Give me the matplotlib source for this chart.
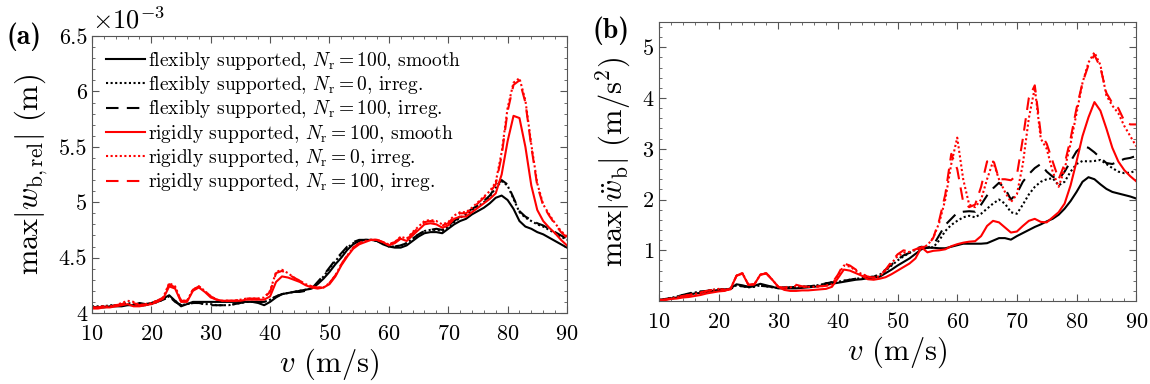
import numpy as np
import matplotlib
matplotlib.use("Agg")
import matplotlib.pyplot as plt
from matplotlib.ticker import MultipleLocator, FuncFormatter

plt.rcParams['font.family'] = 'serif'
plt.rcParams['font.serif'] = ['cmr10', 'DejaVu Serif']
plt.rcParams['mathtext.fontset'] = 'cm'
plt.rcParams['axes.formatter.use_mathtext'] = True
plt.rcParams['axes.unicode_minus'] = False

# speed grid (m/s)
v = np.arange(10, 91)

# (a) max|w_b,rel| in 1e-3 m
a_flex_smooth = [4.05, 4.05, 4.05, 4.06, 4.06, 4.06, 4.07, 4.07, 4.09, 4.08,
                 4.09, 4.11, 4.13, 4.16, 4.11, 4.06, 4.08, 4.10, 4.10, 4.10,
                 4.10, 4.10, 4.10, 4.10, 4.10, 4.10, 4.10, 4.10, 4.09, 4.07,
                 4.10, 4.14, 4.17, 4.18, 4.19, 4.20, 4.21, 4.22, 4.26, 4.31,
                 4.37, 4.44, 4.50, 4.57, 4.62, 4.65, 4.66, 4.66, 4.65, 4.62,
                 4.60, 4.59, 4.59, 4.61, 4.65, 4.69, 4.72, 4.73, 4.73, 4.72,
                 4.76, 4.80, 4.83, 4.85, 4.89, 4.92, 4.95, 4.99, 5.04, 5.06,
                 5.02, 4.94, 4.83, 4.78, 4.76, 4.73, 4.71, 4.68, 4.65, 4.62, 4.59]
a_flex_irreg0 = [4.06, 4.06, 4.06, 4.07, 4.07, 4.08, 4.09, 4.08, 4.07, 4.07,
                 4.08, 4.10, 4.12, 4.15, 4.11, 4.07, 4.08, 4.09, 4.09, 4.08,
                 4.08, 4.07, 4.07, 4.07, 4.08, 4.09, 4.10, 4.10, 4.10, 4.10,
                 4.12, 4.15, 4.17, 4.18, 4.19, 4.20, 4.21, 4.22, 4.27, 4.33,
                 4.40, 4.47, 4.53, 4.59, 4.63, 4.65, 4.66, 4.66, 4.65, 4.63,
                 4.60, 4.60, 4.61, 4.63, 4.67, 4.71, 4.74, 4.75, 4.75, 4.74,
                 4.78, 4.82, 4.86, 4.89, 4.93, 4.96, 5.00, 5.05, 5.13, 5.19,
                 5.15, 5.03, 4.91, 4.86, 4.83, 4.80, 4.78, 4.75, 4.72, 4.69, 4.66]
a_flex_irreg100 = [4.05, 4.05, 4.06, 4.06, 4.07, 4.07, 4.08, 4.08, 4.07, 4.07,
                   4.08, 4.10, 4.12, 4.15, 4.10, 4.07, 4.08, 4.09, 4.09, 4.08,
                   4.07, 4.07, 4.07, 4.07, 4.08, 4.09, 4.10, 4.10, 4.10, 4.10,
                   4.12, 4.15, 4.17, 4.18, 4.19, 4.19, 4.20, 4.22, 4.28, 4.34,
                   4.41, 4.48, 4.54, 4.60, 4.64, 4.66, 4.66, 4.66, 4.65, 4.63,
                   4.61, 4.60, 4.61, 4.63, 4.67, 4.71, 4.74, 4.75, 4.76, 4.75,
                   4.79, 4.83, 4.87, 4.90, 4.94, 4.97, 5.01, 5.06, 5.14, 5.20,
                   5.16, 5.04, 4.92, 4.87, 4.84, 4.81, 4.79, 4.76, 4.73, 4.70, 4.67]
a_rigid_smooth = [4.04, 4.04, 4.05, 4.05, 4.06, 4.07, 4.08, 4.06, 4.06, 4.07,
                  4.08, 4.10, 4.13, 4.24, 4.22, 4.10, 4.10, 4.20, 4.23, 4.19,
                  4.14, 4.12, 4.11, 4.11, 4.11, 4.11, 4.12, 4.12, 4.12, 4.12,
                  4.15, 4.28, 4.33, 4.32, 4.30, 4.28, 4.25, 4.23, 4.22, 4.23,
                  4.26, 4.33, 4.43, 4.51, 4.58, 4.62, 4.64, 4.66, 4.66, 4.64,
                  4.61, 4.63, 4.67, 4.65, 4.70, 4.75, 4.80, 4.81, 4.80, 4.77,
                  4.79, 4.85, 4.87, 4.87, 4.91, 4.95, 4.99, 5.03, 5.08, 5.25,
                  5.55, 5.78, 5.76, 5.50, 5.15, 4.93, 4.83, 4.77, 4.72, 4.66, 4.61]
a_rigid_irreg0 = [4.05, 4.05, 4.06, 4.06, 4.07, 4.09, 4.11, 4.10, 4.07, 4.08,
                  4.09, 4.11, 4.14, 4.27, 4.24, 4.11, 4.11, 4.21, 4.24, 4.20,
                  4.15, 4.12, 4.11, 4.11, 4.11, 4.12, 4.13, 4.13, 4.13, 4.14,
                  4.20, 4.37, 4.39, 4.36, 4.32, 4.29, 4.26, 4.24, 4.23, 4.23,
                  4.27, 4.34, 4.44, 4.52, 4.59, 4.63, 4.65, 4.66, 4.66, 4.64,
                  4.62, 4.64, 4.69, 4.67, 4.73, 4.78, 4.83, 4.84, 4.83, 4.80,
                  4.82, 4.88, 4.91, 4.91, 4.95, 5.00, 5.05, 5.10, 5.18, 5.45,
                  5.85, 6.08, 6.12, 5.92, 5.52, 5.17, 4.98, 4.89, 4.81, 4.74, 4.69]
a_rigid_irreg100 = [4.05, 4.05, 4.06, 4.06, 4.07, 4.08, 4.10, 4.09, 4.07, 4.08,
                    4.09, 4.11, 4.14, 4.26, 4.23, 4.11, 4.11, 4.21, 4.24, 4.20,
                    4.15, 4.12, 4.11, 4.11, 4.11, 4.12, 4.13, 4.13, 4.13, 4.14,
                    4.19, 4.36, 4.38, 4.35, 4.32, 4.29, 4.26, 4.24, 4.23, 4.23,
                    4.27, 4.34, 4.44, 4.52, 4.59, 4.63, 4.65, 4.66, 4.66, 4.64,
                    4.62, 4.64, 4.68, 4.66, 4.72, 4.77, 4.82, 4.83, 4.82, 4.79,
                    4.81, 4.87, 4.90, 4.90, 4.94, 4.99, 5.04, 5.09, 5.16, 5.42,
                    5.82, 6.06, 6.10, 5.90, 5.50, 5.15, 4.97, 4.88, 4.80, 4.73, 4.68]

# (b) max|w_b''| in m/s^2
b_flex_smooth = [0.02, 0.03, 0.05, 0.07, 0.10, 0.12, 0.15, 0.16, 0.18, 0.20,
                 0.22, 0.21, 0.25, 0.33, 0.31, 0.28, 0.30, 0.34, 0.31, 0.28,
                 0.25, 0.25, 0.25, 0.25, 0.26, 0.27, 0.28, 0.30, 0.32, 0.34,
                 0.36, 0.38, 0.40, 0.42, 0.43, 0.45, 0.46, 0.48, 0.55, 0.62,
                 0.70, 0.77, 0.84, 0.93, 1.02, 1.05, 1.05, 1.04, 1.04, 1.07,
                 1.10, 1.13, 1.13, 1.13, 1.13, 1.14, 1.19, 1.24, 1.24, 1.21,
                 1.28, 1.34, 1.40, 1.46, 1.51, 1.57, 1.62, 1.70, 1.82, 1.97,
                 2.15, 2.35, 2.44, 2.40, 2.30, 2.21, 2.15, 2.12, 2.09, 2.06, 2.02]
b_flex_irreg0 = [0.02, 0.04, 0.06, 0.09, 0.12, 0.14, 0.17, 0.18, 0.20, 0.22,
                 0.23, 0.22, 0.24, 0.31, 0.29, 0.27, 0.28, 0.31, 0.29, 0.27,
                 0.26, 0.26, 0.27, 0.27, 0.28, 0.29, 0.30, 0.32, 0.35, 0.37,
                 0.38, 0.40, 0.42, 0.44, 0.45, 0.47, 0.48, 0.52, 0.60, 0.70,
                 0.80, 0.88, 0.95, 1.01, 1.05, 1.05, 1.06, 1.20, 1.38, 1.50,
                 1.58, 1.65, 1.68, 1.65, 1.72, 1.82, 1.92, 2.00, 1.92, 1.75,
                 1.72, 1.90, 2.10, 2.25, 2.35, 2.40, 2.42, 2.28, 2.35, 2.55,
                 2.70, 2.76, 2.75, 2.76, 2.78, 2.70, 2.62, 2.55, 2.52, 2.53, 2.57]
b_flex_irreg100 = [0.02, 0.04, 0.06, 0.09, 0.12, 0.15, 0.18, 0.19, 0.20, 0.22,
                   0.24, 0.23, 0.24, 0.30, 0.29, 0.28, 0.29, 0.30, 0.29, 0.28,
                   0.27, 0.27, 0.27, 0.28, 0.28, 0.29, 0.30, 0.32, 0.35, 0.37,
                   0.38, 0.40, 0.42, 0.44, 0.45, 0.47, 0.48, 0.53, 0.62, 0.72,
                   0.82, 0.90, 0.95, 1.03, 1.07, 1.05, 1.10, 1.30, 1.50, 1.62,
                   1.74, 1.76, 1.77, 1.76, 1.90, 2.08, 2.22, 2.33, 2.22, 2.00,
                   2.12, 2.35, 2.50, 2.62, 2.70, 2.55, 2.45, 2.40, 2.55, 2.75,
                   2.95, 3.05, 3.02, 2.93, 2.82, 2.72, 2.70, 2.75, 2.80, 2.82, 2.86]
b_rigid_smooth = [0.01, 0.02, 0.04, 0.05, 0.07, 0.08, 0.10, 0.12, 0.15, 0.17,
                  0.19, 0.20, 0.24, 0.50, 0.54, 0.32, 0.33, 0.52, 0.54, 0.42,
                  0.28, 0.22, 0.20, 0.20, 0.21, 0.21, 0.22, 0.23, 0.24, 0.28,
                  0.45, 0.62, 0.60, 0.55, 0.50, 0.43, 0.42, 0.44, 0.47, 0.53,
                  0.60, 0.67, 0.74, 0.84, 1.06, 0.96, 0.99, 1.00, 1.02, 1.08,
                  1.12, 1.15, 1.17, 1.18, 1.28, 1.48, 1.58, 1.55, 1.45, 1.35,
                  1.37, 1.48, 1.58, 1.62, 1.56, 1.55, 1.65, 1.75, 1.92, 2.28,
                  2.75, 3.25, 3.62, 3.92, 3.75, 3.40, 3.02, 2.75, 2.58, 2.46, 2.36]
b_rigid_irreg0 = [0.02, 0.03, 0.05, 0.07, 0.10, 0.12, 0.14, 0.16, 0.19, 0.22,
                  0.24, 0.22, 0.24, 0.50, 0.55, 0.32, 0.33, 0.52, 0.55, 0.42,
                  0.28, 0.25, 0.27, 0.30, 0.28, 0.28, 0.28, 0.29, 0.30, 0.33,
                  0.50, 0.70, 0.68, 0.60, 0.53, 0.48, 0.46, 0.49, 0.60, 0.75,
                  0.88, 0.95, 0.97, 1.02, 1.05, 1.10, 1.25, 1.55, 2.00, 2.70,
                  3.22, 2.40, 1.90, 1.85, 2.00, 2.40, 2.75, 2.40, 2.15, 1.95,
                  2.10, 2.70, 3.60, 4.20, 3.20, 3.00, 2.55, 2.25, 2.60, 3.10,
                  3.70, 4.30, 4.70, 4.90, 4.65, 4.05, 3.85, 3.70, 3.45, 3.25, 3.05]
b_rigid_irreg100 = [0.02, 0.03, 0.05, 0.08, 0.10, 0.12, 0.14, 0.17, 0.20, 0.22,
                    0.24, 0.22, 0.23, 0.50, 0.55, 0.32, 0.33, 0.52, 0.55, 0.42,
                    0.28, 0.26, 0.30, 0.32, 0.29, 0.28, 0.28, 0.29, 0.30, 0.35,
                    0.52, 0.74, 0.70, 0.62, 0.54, 0.48, 0.46, 0.50, 0.62, 0.78,
                    0.92, 1.00, 0.97, 1.02, 1.06, 1.08, 1.25, 1.60, 2.10, 2.90,
                    2.60, 1.95, 1.85, 1.90, 2.25, 2.75, 2.80, 2.40, 2.40, 2.38,
                    2.48, 3.20, 4.00, 4.25, 3.30, 3.10, 2.75, 2.40, 2.70, 3.20,
                    3.80, 4.30, 4.65, 4.85, 4.60, 4.10, 3.90, 3.80, 3.55, 3.48, 3.48]

labels = [r'flexibly supported, $N_\mathrm{r}=100$, smooth',
          r'flexibly supported, $N_\mathrm{r}=0$, irreg.',
          r'flexibly supported, $N_\mathrm{r}=100$, irreg.',
          r'rigidly supported, $N_\mathrm{r}=100$, smooth',
          r'rigidly supported, $N_\mathrm{r}=0$, irreg.',
          r'rigidly supported, $N_\mathrm{r}=100$, irreg.']
colors = ['black', 'black', 'black', '#ff0000', '#ff0000', '#ff0000']
styles = ['-', (0, (1, 1.2)), (0, (6, 4)), '-', (0, (1, 1.2)), (0, (6, 4))]

series_a = [a_flex_smooth, a_flex_irreg0, a_flex_irreg100,
            a_rigid_smooth, a_rigid_irreg0, a_rigid_irreg100]
series_b = [b_flex_smooth, b_flex_irreg0, b_flex_irreg100,
            b_rigid_smooth, b_rigid_irreg0, b_rigid_irreg100]

fig = plt.figure(figsize=(11.5, 3.84), dpi=100)
ax1 = fig.add_axes([0.080, 0.185, 0.413, 0.721])
ax2 = fig.add_axes([0.573, 0.216, 0.415, 0.727])


def style_axes(ax):
    ax.tick_params(which='both', direction='in', top=True, right=True,
                   labelsize=16, color='#555555')
    ax.tick_params(which='major', length=5)
    ax.tick_params(which='minor', length=2.5)
    ax.tick_params(axis='x', pad=8)
    for sp in ax.spines.values():
        sp.set_color('#555555')
        sp.set_linewidth(0.8)
    ax.set_xlim(10, 90)
    ax.xaxis.set_major_locator(MultipleLocator(10))
    ax.xaxis.set_minor_locator(MultipleLocator(2))
    ax.set_xlabel(r'$v$ (m/s)', fontsize=22, labelpad=2)


for ys, c, ls, lab in zip(series_a, colors, styles, labels):
    ax1.plot(v, np.array(ys) * 1e-3, color=c, linestyle=ls, linewidth=1.5, label=lab)
style_axes(ax1)
ax1.set_ylim(4e-3, 6.5e-3)
ax1.yaxis.set_major_locator(MultipleLocator(0.5e-3))
ax1.yaxis.set_minor_locator(MultipleLocator(0.1e-3))
ax1.yaxis.set_major_formatter(FuncFormatter(lambda y, pos: f'{y * 1e3:g}'))
ax1.text(0.0, 1.01, r'$\times 10^{-3}$', transform=ax1.transAxes,
         fontsize=19, ha='left', va='bottom')
ax1.set_ylabel(r'$\max|w_\mathrm{b,rel}|$ (m)', fontsize=22, labelpad=6)
ax1.legend(loc='upper left', frameon=False, fontsize=14, handlelength=2.0,
           handletextpad=0.2, labelspacing=0.12, borderaxespad=0.3)

for ys, c, ls in zip(series_b, colors, styles):
    ax2.plot(v, ys, color=c, linestyle=ls, linewidth=1.5)
style_axes(ax2)
ax2.set_ylim(0, 5.5)
ax2.set_yticks([1, 2, 3, 4, 5])
ax2.yaxis.set_minor_locator(MultipleLocator(0.2))
ax2.set_ylabel(r'$\max|\ddot{w}_\mathrm{b}|$ $(\mathrm{m/s^2})$', fontsize=22, labelpad=6)

fig.text(0.006, 0.905, '(a)', fontsize=20, fontfamily='cmb10', va='center')
fig.text(0.515, 0.92, '(b)', fontsize=20, fontfamily='cmb10', va='center')

fig.savefig('out.png', dpi=100)
